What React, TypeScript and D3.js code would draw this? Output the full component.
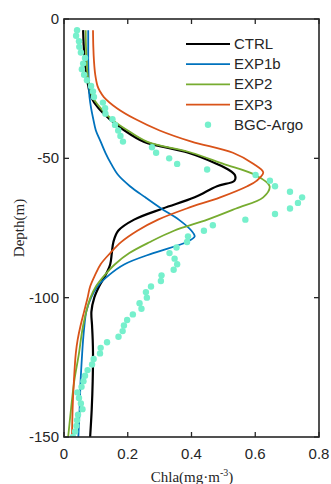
import React from "react";
import * as d3 from "d3";

// ---- Data ----
const ctrlDepth = [4, 10, 15, 20, 24, 28, 32, 36, 40, 44, 48, 52, 54, 56, 58, 60, 64, 68, 72, 76, 80, 84, 88, 92, 96, 100, 105, 110, 115, 120, 130, 140, 150];
const ctrlValue = [0.06, 0.062, 0.065, 0.07, 0.076, 0.085, 0.108, 0.144, 0.19, 0.25, 0.39, 0.48, 0.515, 0.536, 0.535, 0.48, 0.41, 0.31, 0.22, 0.17, 0.155, 0.15, 0.145, 0.13, 0.11, 0.095, 0.086, 0.088, 0.09, 0.091, 0.09, 0.087, 0.082];

const exp1bDepth = [4, 10, 15, 20, 24, 28, 32, 36, 40, 44, 48, 52, 56, 60, 64, 68, 72, 76, 78, 80, 84, 88, 92, 96, 100, 105, 110, 115, 120, 130, 140, 150];
const exp1bValue = [0.076, 0.076, 0.076, 0.077, 0.078, 0.08, 0.085, 0.092, 0.1, 0.115, 0.13, 0.148, 0.17, 0.207, 0.255, 0.305, 0.36, 0.4, 0.41, 0.385, 0.28, 0.19, 0.14, 0.105, 0.085, 0.07, 0.064, 0.06, 0.057, 0.052, 0.049, 0.045];

const exp2Depth = [4, 10, 15, 20, 24, 28, 32, 36, 40, 44, 48, 52, 56, 60, 64, 68, 72, 76, 80, 84, 88, 92, 96, 100, 105, 110, 115, 120, 130, 140, 150];
const exp2Value = [0.068, 0.069, 0.071, 0.074, 0.08, 0.09, 0.115, 0.15, 0.2, 0.26, 0.4, 0.5, 0.6, 0.645, 0.625, 0.54, 0.45, 0.345, 0.27, 0.205, 0.16, 0.127, 0.1, 0.083, 0.07, 0.06, 0.053, 0.047, 0.032, 0.022, 0.013];

const exp3Depth = [4, 10, 15, 20, 24, 26, 28, 32, 36, 40, 44, 48, 52, 55, 58, 60, 64, 68, 72, 76, 80, 84, 88, 92, 96, 100, 105, 110, 115, 120, 130, 140, 150];
const exp3Value = [0.091, 0.092, 0.094, 0.098, 0.105, 0.113, 0.125, 0.166, 0.225, 0.3, 0.4, 0.53, 0.595, 0.625, 0.605, 0.575, 0.49, 0.385, 0.295, 0.23, 0.18, 0.145, 0.115, 0.097, 0.082, 0.074, 0.063, 0.052, 0.043, 0.037, 0.031, 0.027, 0.025];

const argoDepth = [4, 6, 8, 10, 12, 14, 16, 18, 20, 22, 24, 26, 28, 30, 32, 34, 36, 38, 40, 42, 44, 46, 48, 50, 52, 54, 56, 58, 60, 62, 64, 66, 68, 70, 72, 74, 76, 78, 80, 82, 84, 86, 88, 90, 92, 94, 96, 98, 100, 102, 104, 106, 108, 110, 112, 114, 116, 118, 120, 122, 124, 126, 128, 130, 132, 134, 136, 138, 140, 142, 144, 146, 148, 150];
const argoValue = [0.041, 0.038, 0.047, 0.048, 0.053, 0.066, 0.06, 0.056, 0.063, 0.072, 0.085, 0.091, 0.094, 0.122, 0.129, 0.13, 0.152, 0.16, 0.17, 0.177, 0.185, 0.276, 0.289, 0.33, 0.355, 0.449, 0.601, 0.646, 0.662, 0.709, 0.747, 0.734, 0.709, 0.662, 0.569, 0.467, 0.439, 0.389, 0.386, 0.353, 0.331, 0.347, 0.355, 0.344, 0.306, 0.304, 0.273, 0.257, 0.26, 0.237, 0.243, 0.216, 0.198, 0.188, 0.184, 0.171, 0.135, 0.115, 0.113, 0.093, 0.088, 0.074, 0.066, 0.061, 0.055, 0.042, 0.047, 0.053, 0.058, 0.044, 0.041, 0.039, 0.035, 0.028];

const xTicks = [0, 0.2, 0.4, 0.6, 0.8];
const xTickLabels = ["0", "0.2", "0.4", "0.6", "0.8"];
const yTicks = [0, -50, -100, -150];
const yTickLabels = ["0", "-50", "-100", "-150"];

const seriesNames = ["CTRL", "EXP1b", "EXP2", "EXP3"];
const seriesColors = ["#000000", "#0072BD", "#77AC30", "#D95319"];
const seriesWidths = [2.2, 1.8, 1.8, 1.8];
const argoName = "BGC-Argo";
const argoColor = "#76F0CC";

export default function App() {
  const W = 331, H = 484;
  const left = 64, right = 319, top = 19, bottom = 437;
  const x = d3.scaleLinear().domain([0, 0.8]).range([left, right]);
  const y = d3.scaleLinear().domain([0, -150]).range([top, bottom]);

  const line = d3
    .line<[number, number]>()
    .x((d) => x(d[0]))
    .y((d) => y(-d[1]))
    .curve(d3.curveCatmullRom.alpha(0.5));

  const series = [
    { depth: ctrlDepth, value: ctrlValue },
    { depth: exp1bDepth, value: exp1bValue },
    { depth: exp2Depth, value: exp2Value },
    { depth: exp3Depth, value: exp3Value },
  ];

  const axisColor = "#262626";
  const tickLen = 5;
  const sans = "Arial, 'Liberation Sans', sans-serif";
  const serif = "'Times New Roman', 'Liberation Serif', serif";

  const legendX1 = 186, legendX2 = 230, legendText = 234, legendY0 = 44, legendDy = 20.2;

  return (
    <svg width={W} height={H} style={{ position: "absolute", left: 0, top: 0, background: "#fff" }}>
      <rect x={0} y={0} width={W} height={H} fill="#fff" />
      <defs>
        <clipPath id="plotclip">
          <rect x={left} y={top} width={right - left} height={bottom - top} />
        </clipPath>
      </defs>
      <g clipPath="url(#plotclip)">
        {series.map((s, i) => (
          <path
            key={seriesNames[i]}
            d={line(s.value.map((v, j) => [v, s.depth[j]] as [number, number])) || ""}
            fill="none"
            stroke={seriesColors[i]}
            strokeWidth={seriesWidths[i]}
          />
        ))}
        {argoValue.map((v, j) => (
          <circle key={j} cx={x(v)} cy={y(-argoDepth[j])} r={3.2} fill={argoColor} />
        ))}
      </g>
      {/* axes box */}
      <rect x={left} y={top} width={right - left} height={bottom - top} fill="none" stroke={axisColor} strokeWidth={1.6} />
      {xTicks.map((t, i) => (
        <g key={"xt" + i}>
          <line x1={x(t)} x2={x(t)} y1={bottom} y2={bottom - tickLen} stroke={axisColor} strokeWidth={1.3} />
          <line x1={x(t)} x2={x(t)} y1={top} y2={top + tickLen} stroke={axisColor} strokeWidth={1.3} />
          <text x={x(t)} y={459} fontFamily={sans} fontSize={15} fill={axisColor} textAnchor="middle">
            {xTickLabels[i]}
          </text>
        </g>
      ))}
      {yTicks.map((t, i) => (
        <g key={"yt" + i}>
          <line x1={left} x2={left + tickLen} y1={y(t)} y2={y(t)} stroke={axisColor} strokeWidth={1.3} />
          <line x1={right} x2={right - tickLen} y1={y(t)} y2={y(t)} stroke={axisColor} strokeWidth={1.3} />
          <text x={left - 5} y={y(t) + 5} fontFamily={sans} fontSize={15} fill={axisColor} textAnchor="end">
            {yTickLabels[i]}
          </text>
        </g>
      ))}
      {/* axis labels */}
      <text x={192} y={482} fontFamily={serif} fontSize={15} fill={axisColor} textAnchor="middle">
        Chla(mg·m
        <tspan dy={-6} fontSize={10}>-3</tspan>
        <tspan dy={6}>)</tspan>
      </text>
      <text
        transform={`translate(24, ${(top + bottom) / 2}) rotate(-90)`}
        fontFamily={serif}
        fontSize={15}
        fill={axisColor}
        textAnchor="middle"
      >
        Depth(m)
      </text>
      {/* legend */}
      {seriesNames.map((n, i) => (
        <g key={"lg" + i}>
          <line x1={legendX1} x2={legendX2} y1={legendY0 + i * legendDy} y2={legendY0 + i * legendDy} stroke={seriesColors[i]} strokeWidth={seriesWidths[i]} />
          <text x={legendText} y={legendY0 + i * legendDy + 5} fontFamily={sans} fontSize={15} fill={axisColor}>
            {n}
          </text>
        </g>
      ))}
      <circle cx={(legendX1 + legendX2) / 2} cy={legendY0 + 4 * legendDy} r={3.2} fill={argoColor} />
      <text x={legendText} y={legendY0 + 4 * legendDy + 5} fontFamily={sans} fontSize={15} fill={axisColor}>
        {argoName}
      </text>
    </svg>
  );
}
